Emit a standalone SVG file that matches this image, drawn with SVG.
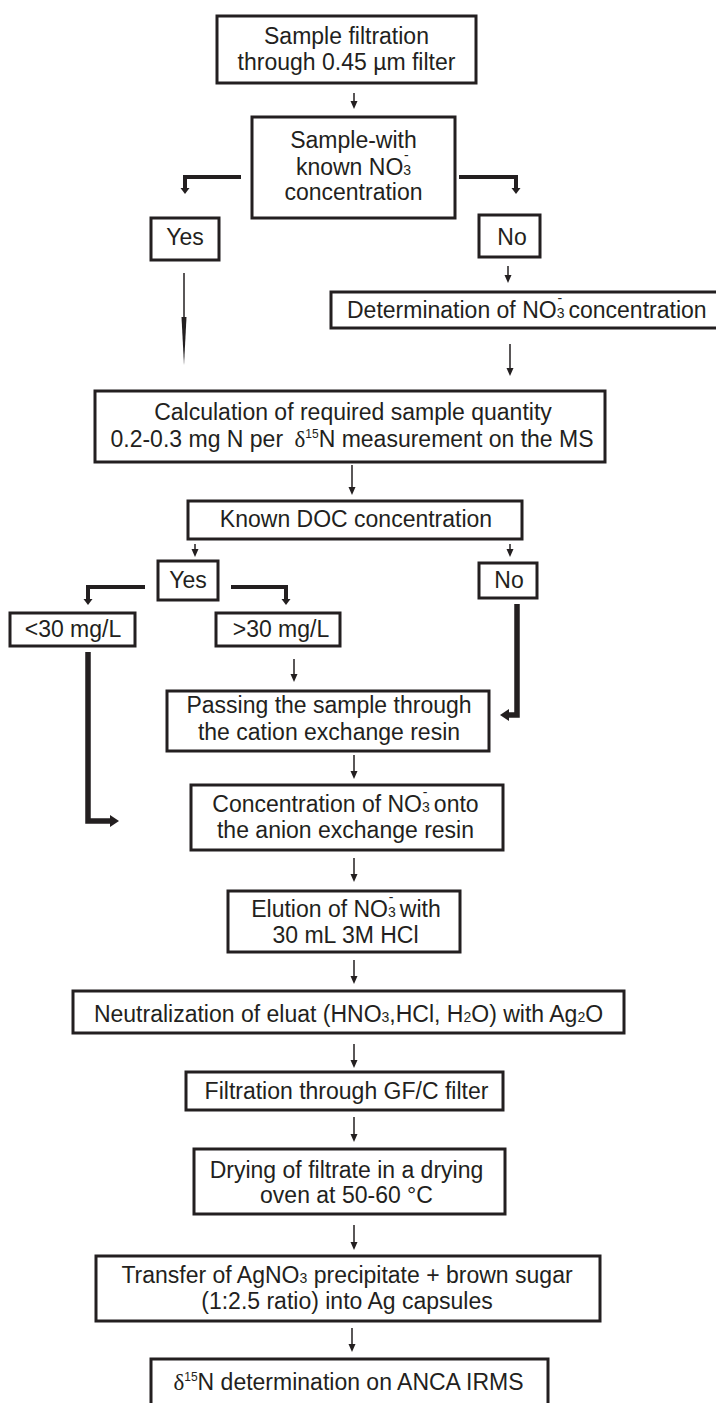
<svg xmlns="http://www.w3.org/2000/svg" width="716" height="1403" viewBox="0 0 716 1403">
<style>
.box{fill:#fff;stroke:#231f20;stroke-width:3}
text{font-family:"Liberation Sans",Arial,sans-serif;font-size:23px;fill:#231f20;text-anchor:middle}
.st{text-anchor:start}
.s{font-size:14px}
.sp{font-size:12px}
.g{font-family:"Liberation Serif","Times New Roman",serif}
.c{fill:none;stroke:#231f20;stroke-width:1.5}
.t{fill:none;stroke:#231f20;stroke-width:4}
.tt{fill:none;stroke:#231f20;stroke-width:5.5}
</style>
<defs>
<marker id="ah" markerUnits="userSpaceOnUse" markerWidth="8" markerHeight="7" refX="0" refY="3.5" orient="auto" overflow="visible"><path d="M0,0 L8,3.5 L0,7z" fill="#231f20"/></marker>
<marker id="ahT" markerUnits="userSpaceOnUse" markerWidth="6" markerHeight="9" refX="0" refY="4.5" orient="auto" overflow="visible"><path d="M0,0 L6,4.5 L0,9z" fill="#231f20"/></marker>
<marker id="ahB" markerUnits="userSpaceOnUse" markerWidth="9" markerHeight="12" refX="0" refY="6" orient="auto" overflow="visible"><path d="M0,0 L9,6 L0,12z" fill="#231f20"/></marker>
<marker id="ahL" markerUnits="userSpaceOnUse" markerWidth="48" markerHeight="5" refX="0" refY="2.5" orient="auto" overflow="visible"><path d="M0,0 L48,2.5 L0,5z" fill="#231f20"/></marker>
</defs>
<rect width="716" height="1403" fill="#fff"/>
<g id="connectors">
<line class="c" x1="354" y1="93" x2="354" y2="101" marker-end="url(#ah)"/>
<path class="t" d="M241,177 H185 V188" marker-end="url(#ahT)"/>
<path class="t" d="M459,177 H516 V188" marker-end="url(#ahT)"/>
<line class="c" x1="184" y1="273" x2="184" y2="317" marker-end="url(#ahL)"/>
<line class="c" x1="508" y1="266" x2="508" y2="275" marker-end="url(#ah)"/>
<line class="c" x1="510" y1="344" x2="510" y2="368" marker-end="url(#ah)"/>
<line class="c" x1="352" y1="465" x2="352" y2="487" marker-end="url(#ah)"/>
<line class="c" x1="195" y1="544" x2="195" y2="549" marker-end="url(#ah)"/>
<line class="c" x1="510" y1="544" x2="510" y2="549" marker-end="url(#ah)"/>
<path class="t" d="M145,587 H88 V599" marker-end="url(#ahT)"/>
<path class="t" d="M231,587 H286 V599" marker-end="url(#ahT)"/>
<line class="c" x1="294" y1="659" x2="294" y2="674" marker-end="url(#ah)"/>
<path class="tt" d="M88,652 V821 H110" marker-end="url(#ahB)"/>
<path class="tt" d="M517,604 V715 H509" marker-end="url(#ahB)"/>
<line class="c" x1="354" y1="755" x2="354" y2="771" marker-end="url(#ah)"/>
<line class="c" x1="354" y1="858" x2="354" y2="874" marker-end="url(#ah)"/>
<line class="c" x1="354" y1="960" x2="354" y2="976" marker-end="url(#ah)"/>
<line class="c" x1="354" y1="1044" x2="354" y2="1060" marker-end="url(#ah)"/>
<line class="c" x1="354" y1="1117" x2="354" y2="1134" marker-end="url(#ah)"/>
<line class="c" x1="354" y1="1225" x2="354" y2="1242" marker-end="url(#ah)"/>
<line class="c" x1="352" y1="1328" x2="352" y2="1344" marker-end="url(#ah)"/>
</g>
<g id="n1"><rect class="box" x="217" y="16" width="259" height="67"/>
<text x="346.5" y="44">Sample filtration</text>
<text x="346.5" y="70">through 0.45 µm filter</text></g>
<g id="n2"><rect class="box" x="252" y="117" width="203" height="101"/>
<text x="353.5" y="148">Sample-with</text>
<text x="353.5" y="175">known NO<tspan class="s">3</tspan><tspan class="s" dx="-7" dy="-15">-</tspan></text>
<text x="353.5" y="200">concentration</text></g>
<g id="n3"><rect class="box" x="151" y="218" width="68" height="42"/>
<text x="185" y="245">Yes</text></g>
<g id="n4"><rect class="box" x="479" y="215" width="61" height="42"/>
<text x="512" y="245">No</text></g>
<g id="n5"><rect class="box" x="331" y="292" width="400" height="36"/>
<text class="st" x="347" y="318">Determination of NO<tspan class="s">3</tspan><tspan class="s" dx="-7" dy="-15">-</tspan><tspan dy="15"> concentration</tspan></text></g>
<g id="n6"><rect class="box" x="95" y="391" width="510" height="71"/>
<text x="353" y="420">Calculation of required sample quantity</text>
<text x="352" y="447">0.2-0.3 mg N per <tspan class="g" dx="5">δ</tspan><tspan class="sp" dy="-9">15</tspan><tspan dy="9">N measurement on the MS</tspan></text></g>
<g id="n7"><rect class="box" x="188" y="501" width="334" height="38"/>
<text x="356" y="527">Known DOC concentration</text></g>
<g id="n8"><rect class="box" x="158" y="561" width="60" height="39"/>
<text x="188" y="588">Yes</text></g>
<g id="n9"><rect class="box" x="479" y="563" width="58" height="35"/>
<text x="509" y="588">No</text></g>
<g id="n10"><rect class="box" x="10" y="613" width="125" height="33"/>
<text x="73" y="637">&lt;30 mg/L</text></g>
<g id="n11"><rect class="box" x="216" y="613" width="124" height="33"/>
<text x="281" y="637">&gt;30 mg/L</text></g>
<g id="n12"><rect class="box" x="167" y="691" width="322" height="60"/>
<text x="329" y="713">Passing the sample through</text>
<text x="329" y="740">the cation exchange resin</text></g>
<g id="n13"><rect class="box" x="191" y="785" width="312" height="65"/>
<text x="345.5" y="812">Concentration of NO<tspan class="s">3</tspan><tspan class="s" dx="-7" dy="-15">-</tspan><tspan dy="15"> onto</tspan></text>
<text x="345.5" y="838">the anion exchange resin</text></g>
<g id="n14"><rect class="box" x="228" y="891" width="232" height="61"/>
<text x="346" y="917">Elution of NO<tspan class="s">3</tspan><tspan class="s" dx="-7" dy="-15">-</tspan><tspan dy="15"> with</tspan></text>
<text x="345.5" y="943">30 mL 3M HCl</text></g>
<g id="n15"><rect class="box" x="73" y="991" width="551" height="42"/>
<text x="348.5" y="1022">Neutralization of eluat (HNO<tspan class="s">3</tspan>,HCl, H<tspan class="s">2</tspan>O) with Ag<tspan class="s">2</tspan>O</text></g>
<g id="n16"><rect class="box" x="186" y="1072" width="317" height="38"/>
<text x="346.5" y="1099">Filtration through GF/C filter</text></g>
<g id="n17"><rect class="box" x="194" y="1149" width="311" height="65"/>
<text x="346.5" y="1178">Drying of filtrate in a drying</text>
<text x="346.5" y="1203">oven at 50-60 °C</text></g>
<g id="n18"><rect class="box" x="96" y="1256" width="504" height="65"/>
<text x="347" y="1283">Transfer of AgNO<tspan class="s">3</tspan> precipitate + brown sugar</text>
<text x="347" y="1309">(1:2.5 ratio) into Ag capsules</text></g>
<g id="n19"><rect class="box" x="151" y="1359" width="397" height="60"/>
<text x="348.5" y="1390"><tspan class="g">δ</tspan><tspan class="sp" dy="-9">15</tspan><tspan dy="9">N determination on ANCA IRMS</tspan></text></g>
</svg>
